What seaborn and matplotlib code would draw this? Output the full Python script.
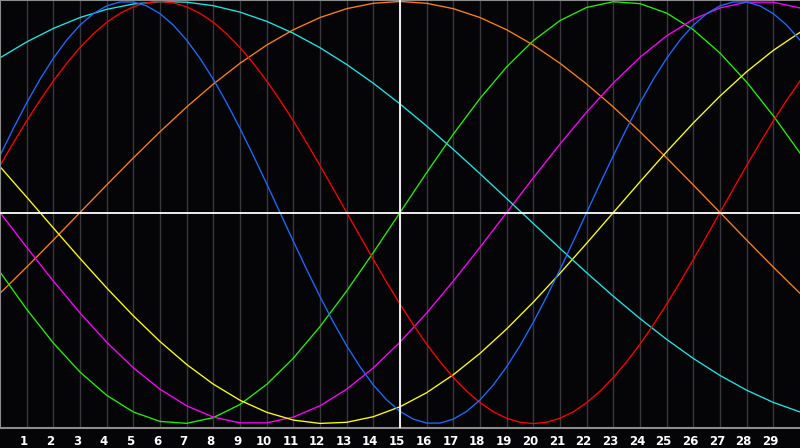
import numpy as np
import pandas as pd
import matplotlib
matplotlib.use("Agg")
import matplotlib.pyplot as plt
from matplotlib.transforms import ScaledTranslation
import seaborn as sns

# Day positions along the x axis
days = list(range(31))                      # 0, 1, ..., 30
half_days = [i / 2 for i in range(61)]      # 0, 0.5, ..., 30
tick_days = list(range(1, 30))
tick_labels = [str(d) for d in tick_days]

# Curve values (-1 .. 1)
# red and blue are sampled every half day, the slower curves every day
red = [0.2225, 0.3303, 0.4339, 0.5320, 0.6235, 0.7071, 0.7818, 0.8467, 0.9010, 0.9439,
       0.9749, 0.9937, 1.0000, 0.9937, 0.9749, 0.9439, 0.9010, 0.8467, 0.7818, 0.7071,
       0.6235, 0.5320, 0.4339, 0.3303, 0.2225, 0.1120, 0.0000, -0.1120, -0.2225, -0.3303,
       -0.4339, -0.5320, -0.6235, -0.7071, -0.7818, -0.8467, -0.9010, -0.9439, -0.9749, -0.9937,
       -1.0000, -0.9937, -0.9749, -0.9439, -0.9010, -0.8467, -0.7818, -0.7071, -0.6235, -0.5320,
       -0.4339, -0.3303, -0.2225, -0.1120, 0.0000, 0.1120, 0.2225, 0.3303, 0.4339, 0.5320,
       0.6235]
blue = [0.2698, 0.3984, 0.5196, 0.6311, 0.7308, 0.8170, 0.8879, 0.9423, 0.9791, 0.9977,
        0.9977, 0.9791, 0.9423, 0.8879, 0.8170, 0.7308, 0.6311, 0.5196, 0.3984, 0.2698,
        0.1362, 0.0000, -0.1362, -0.2698, -0.3984, -0.5196, -0.6311, -0.7308, -0.8170, -0.8879,
        -0.9423, -0.9791, -0.9977, -0.9977, -0.9791, -0.9423, -0.8879, -0.8170, -0.7308, -0.6311,
        -0.5196, -0.3984, -0.2698, -0.1362, 0.0000, 0.1362, 0.2698, 0.3984, 0.5196, 0.6311,
        0.7308, 0.8170, 0.8879, 0.9423, 0.9791, 0.9977, 0.9977, 0.9791, 0.9423, 0.8879,
        0.8170]
cyan = [0.7331, 0.8083, 0.8722, 0.9241, 0.9627, 0.9880, 0.9993, 0.9967, 0.9800, 0.9496,
        0.9059, 0.8494, 0.7809, 0.7016, 0.6125, 0.5145, 0.4096, 0.2989, 0.1839, 0.0663,
        -0.0522, -0.1699, -0.2853, -0.3967, -0.5024, -0.6012, -0.6915, -0.7720, -0.8418, -0.8998,
        -0.9450]
orange = [-0.3827, -0.2588, -0.1305, 0.0000, 0.1305, 0.2588, 0.3827, 0.5000, 0.6088, 0.7071,
          0.7934, 0.8660, 0.9239, 0.9659, 0.9914, 1.0000, 0.9914, 0.9659, 0.9239, 0.8660,
          0.7934, 0.7071, 0.6088, 0.5000, 0.3827, 0.2588, 0.1305, 0.0000, -0.1305, -0.2588,
          -0.3827]
green = [-0.2817, -0.4582, -0.6182, -0.7557, -0.8660, -0.9450, -0.9898, -0.9989, -0.9718, -0.9096,
         -0.8146, -0.6901, -0.5406, -0.3717, -0.1893, 0.0000, 0.1893, 0.3717, 0.5406, 0.6901,
         0.8146, 0.9096, 0.9718, 0.9989, 0.9898, 0.9450, 0.8660, 0.7557, 0.6182, 0.4582,
         0.2817]
magenta = [0.0000, -0.1646, -0.3247, -0.4759, -0.6142, -0.7357, -0.8372, -0.9158, -0.9694, -0.9966,
           -0.9966, -0.9694, -0.9158, -0.8372, -0.7357, -0.6142, -0.4759, -0.3247, -0.1646, 0.0000,
           0.1646, 0.3247, 0.4759, 0.6142, 0.7357, 0.8372, 0.9158, 0.9694, 0.9966, 0.9966,
           0.9694]
yellow = [0.2174, 0.0730, -0.0730, -0.2174, -0.3572, -0.4894, -0.6112, -0.7200, -0.8133, -0.8894,
          -0.9465, -0.9834, -0.9993, -0.9940, -0.9675, -0.9204, -0.8536, -0.7685, -0.6673, -0.5517,
          -0.4245, -0.2881, -0.1456, 0.0000, 0.1456, 0.2881, 0.4245, 0.5517, 0.6673, 0.7685,
          0.8536]

series = {"orange": (days, orange), "green": (days, green), "magenta": (days, magenta),
          "yellow": (days, yellow), "cyan": (days, cyan), "red": (half_days, red),
          "blue": (half_days, blue)}
palette = {"red": "#ff0000", "blue": "#1a6cff", "cyan": "#1ee6e6", "orange": "#ff8010",
           "green": "#22f000", "magenta": "#ff00ff", "yellow": "#ffff10"}

rows = []
for name, (xs, vals) in series.items():
    for d, v in zip(xs, vals):
        rows.append({"day": d, "value": v, "cycle": name})
df = pd.DataFrame(rows)

bg = "#050508"
fig = plt.figure(figsize=(8, 4.48), dpi=100, facecolor=bg)
ax = fig.add_axes([0, 20 / 448, 1, 428 / 448])
ax.set_facecolor(bg)

# day grid lines
for d in tick_days:
    ax.axvline(d, color="#38383d", lw=1.0, zorder=0)

sns.lineplot(data=df, x="day", y="value", hue="cycle", palette=palette,
             hue_order=list(series.keys()), legend=False, ax=ax, lw=0.95,
             estimator=None, sort=True, zorder=2)

ax.axhline(0, color="white", lw=1.3, zorder=5)
ax.axvline(15, color="white", lw=1.3, zorder=5)

ax.set_xlim(0, 30)
ax.set_ylim(-1.021, 1.007)
ax.set_yticks([])
ax.set_xticks(tick_days)
ax.set_xticklabels(tick_labels, color="white", fontweight="bold", fontsize=8.5)
ax.tick_params(axis="x", length=0, pad=5)
off = ScaledTranslation(-3 / 100, 0, fig.dpi_scale_trans)
for lab in ax.get_xticklabels():
    lab.set_transform(lab.get_transform() + off)
ax.set_xlabel("")
ax.set_ylabel("")

for side in ["left", "bottom", "top"]:
    ax.spines[side].set_color("#8c8c8c")
    ax.spines[side].set_linewidth(1.5)
ax.spines["right"].set_visible(False)

fig.savefig("out.png", dpi=100, facecolor=bg)
